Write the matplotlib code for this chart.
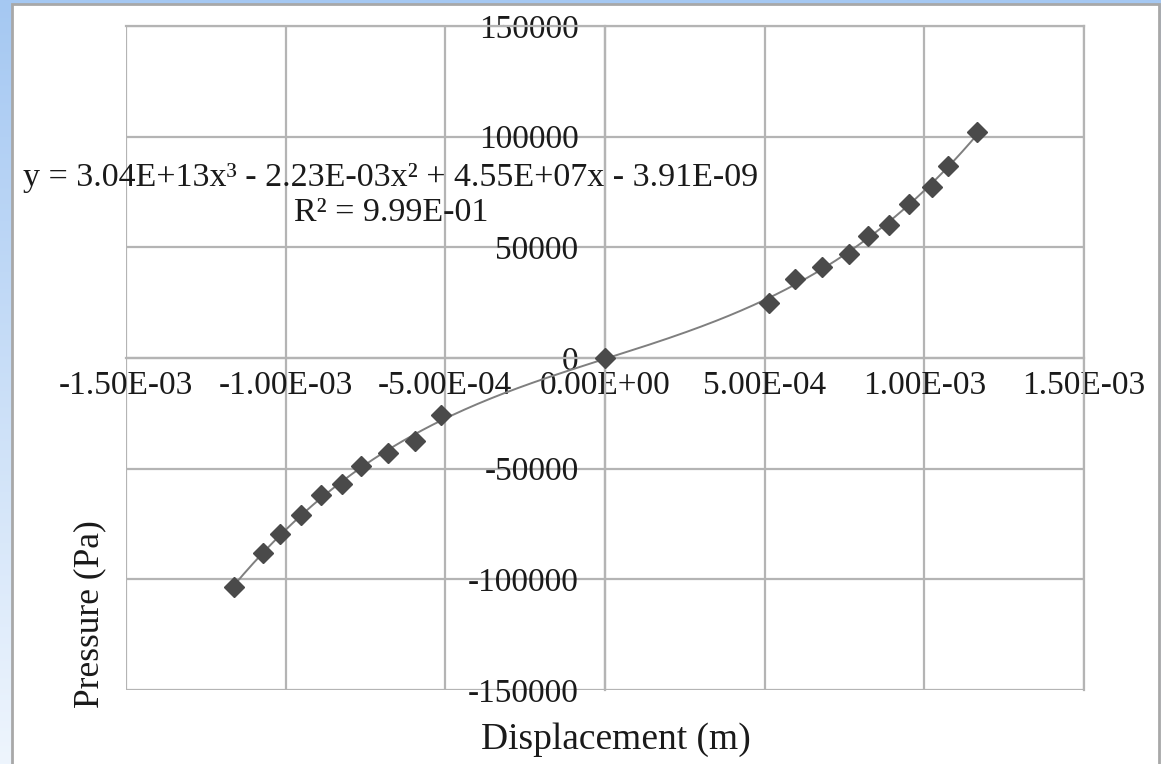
import numpy as np
import matplotlib.pyplot as plt
from matplotlib.patches import Rectangle
from matplotlib.colors import LinearSegmentedColormap

# readings
displacement = [-1.163e-3, -1.072e-3, -1.019e-3, -9.53e-4, -8.88e-4, -8.25e-4,
                -7.63e-4, -6.78e-4, -5.94e-4, -5.13e-4, 0.0,
                5.13e-4, 5.94e-4, 6.78e-4, 7.63e-4, 8.25e-4, 8.88e-4,
                9.53e-4, 1.025e-3, 1.075e-3, 1.166e-3]
pressure = [-103600, -88200, -79500, -70900, -61800, -56800,
            -48600, -42700, -37300, -25900, 0,
            25000, 35900, 41300, 46800, 55000, 60000,
            69500, 77300, 86800, 102300]

x_ticks = [-1.5e-3, -1.0e-3, -5.0e-4, 0.0, 5.0e-4, 1.0e-3, 1.5e-3]
x_tick_labels = ['-1.50E-03', '-1.00E-03', '-5.00E-04', '0.00E+00',
                 '5.00E-04', '1.00E-03', '1.50E-03']
y_ticks = [-150000, -100000, -50000, 0, 50000, 100000, 150000]
y_tick_labels = ['-150000', '-100000', '-50000', '0', '50000', '100000', '150000']

equation = 'y = 3.04E+13x³ - 2.23E-03x² + 4.55E+07x - 3.91E-09\nR² = 9.99E-01'

plt.rcParams['font.family'] = ['Liberation Serif', 'DejaVu Serif']
txt = '#1a1a1a'
grid_c = '#b4b4b4'

W, H = 1161, 764
fig = plt.figure(figsize=(W / 100, H / 100), dpi=100)

# blue window background + white chart panel
bg = fig.add_axes([0, 0, 1, 1], zorder=-10)
grad = np.linspace(0, 1, 256).reshape(-1, 1)
cmap = LinearSegmentedColormap.from_list('bl', ['#a5c8f2', '#eef5fd'])
bg.imshow(grad, aspect='auto', cmap=cmap, extent=[0, 1, 0, 1], origin='upper')
bg.set_axis_off()
bg.add_patch(Rectangle((12 / W, -0.01), (1159 - 12) / W, (H - 4) / H + 0.01,
                       transform=bg.transAxes, facecolor='white',
                       edgecolor='#a8a8a8', linewidth=2))

ax = fig.add_axes([126 / W, 1 - 690 / H, (1084 - 126) / W, (690 - 26) / H])
ax.set_facecolor('none')

xs = np.linspace(min(displacement), max(displacement), 300)
coef = np.polyfit(displacement, pressure, 3)
ax.plot(xs, np.polyval(coef, xs), color='#7f7f7f', lw=1.4, zorder=3)
ax.plot(displacement, pressure, linestyle='none', marker='D', markersize=10,
        color='#4a4a4a', markeredgecolor='#4a4a4a', zorder=4)

ax.set_xlim(-1.5e-3, 1.5e-3)
ax.set_ylim(-150000, 150000)
ax.set_xticks(x_ticks)
ax.set_xticklabels(x_tick_labels)
ax.set_yticks(y_ticks)
ax.set_yticklabels(y_tick_labels)
ax.tick_params(length=0, labelsize=24, colors=txt)
ax.tick_params(axis='x', pad=9)
ax.tick_params(axis='y', pad=19)
ax.grid(True, color=grid_c, lw=1.6)
ax.set_axisbelow(True)

for s in ['left', 'bottom']:
    ax.spines[s].set_position(('data', 0))
for s in ax.spines.values():
    s.set_color(grid_c)
    s.set_linewidth(1.6)

ax.set_xlabel('Displacement (m)', fontsize=27, color=txt)
ax.xaxis.set_label_coords((616 - 126) / 958, (690 - 722) / 664)
ax.set_ylabel('Pressure (Pa)', fontsize=25.5, color=txt)
ax.yaxis.set_label_coords((106 - 126) / 958, (690 - 614) / 664)

fig.text(391 / W, 1 - 195 / H, equation, ha='center', va='center',
         fontsize=24.5, color=txt, multialignment='center')

fig.savefig('out.png', dpi=100)
